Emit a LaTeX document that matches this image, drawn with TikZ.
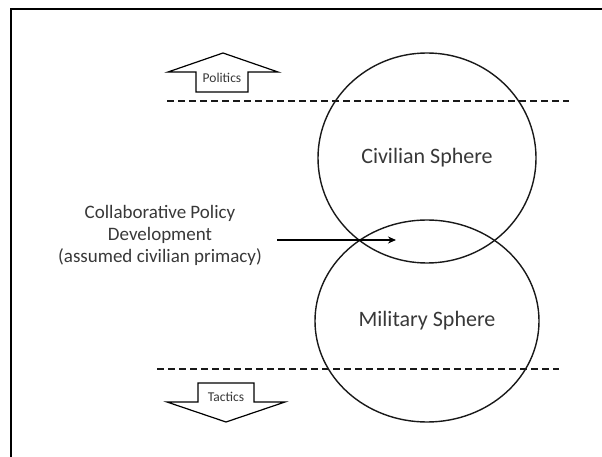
\documentclass[tikz,border=0pt]{standalone}
\usepackage{fontspec}
\setmainfont{Carlito}
\usetikzlibrary{arrows.meta,shapes.geometric}
\tikzset{
  txt/.style={text=black!78, inner sep=0pt},
  sphere/.style={draw=black!90, line width=1.4bp, ellipse, inner sep=0pt, txt, font=\fontsize{22bp}{26bp}\selectfont},
  divider/.style={draw=black!90, line width=1.6bp, dash pattern=on 7bp off 4bp},
  blockarrow/.style={draw=black, line width=1.2bp, fill=white},
  smalllabel/.style={txt, font=\fontsize{13.5bp}{16bp}\selectfont},
  frameline/.style={draw=black, line width=2bp},
  pointer/.style={draw=black, line width=1.2bp, -{Stealth[length=8bp,width=7bp]}}
}
\begin{document}
\begin{tikzpicture}[x=1bp,y=-1bp]
\useasboundingbox (0,0) rectangle (602,457);
% frame
\coordinate (ftl) at (11,9);
\coordinate (fbl) at (11,457);
\coordinate (ftr) at (602,9);
\draw[frameline] (fbl) -- (ftl) -- (ftr);
% dividers
\coordinate (d1a) at (167,101);
\coordinate (d1b) at (569,101);
\coordinate (d2a) at (157,369);
\coordinate (d2b) at (559,369);
\draw[divider] (d1a) -- (d1b);
\draw[divider] (d2a) -- (d2b);
% spheres
\node[sphere, minimum width=218bp, minimum height=210bp] (civ) at (427,158) {Civilian Sphere};
\node[sphere, minimum width=224bp, minimum height=202bp] (mil) at (427,321) {Military Sphere};
% politics arrow
\draw[blockarrow] (168,72) -- (223,53) -- (278,72) -- (248,72) -- (248,92) -- (196,92) -- (196,72) -- cycle;
\node[smalllabel] (pol) at (222,78) {Politics};
% tactics arrow
\draw[blockarrow] (198,383) -- (254,383) -- (254,402) -- (285,402) -- (226,422) -- (167,402) -- (198,402) -- cycle;
\node[smalllabel] (tac) at (226,397) {Tactics};
% policy text and pointer
\node[txt, align=center, font=\fontsize{19bp}{22bp}\selectfont] (policy) at (160,235) {Collaborative Policy\\Development\\(assumed civilian primacy)};
\coordinate (ptail) at (277,240);
\coordinate (phead) at (396,240);
\draw[pointer] (ptail) -- (phead);
\end{tikzpicture}
\end{document}
